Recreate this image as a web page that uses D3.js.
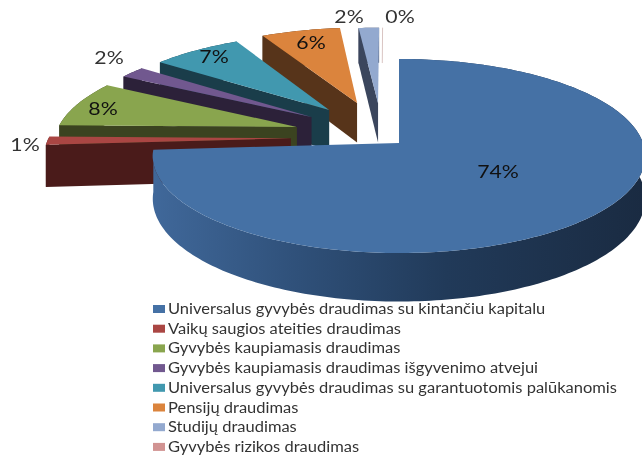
<!DOCTYPE html>
<html>
<head>
<meta charset="utf-8">
<script src="https://cdn.jsdelivr.net/npm/d3@7"></script>
<style>
  html, body { margin: 0; padding: 0; background: #fff; }
  svg { display: block; filter: blur(0.45px); }
  text { font-family: Lato, "Open Sans", sans-serif; }
</style>
</head>
<body>
<div id="chart"></div>
<script>
var categories = [
  "Universalus gyvybės draudimas su kintančiu kapitalu",
  "Vaikų saugios ateities draudimas",
  "Gyvybės kaupiamasis draudimas",
  "Gyvybės kaupiamasis draudimas išgyvenimo atvejui",
  "Universalus gyvybės draudimas su garantuotomis palūkanomis",
  "Pensijų draudimas",
  "Studijų draudimas",
  "Gyvybės rizikos draudimas"
];
var values = [73.9, 1.4, 7.8, 2, 7, 6.2, 1.6, 0.1];
var topColors = ["#4571a5", "#aa4643", "#89a54e", "#71588f", "#4198af", "#db843d", "#93a9cf", "#d19392"];
var wallColors = ["url(#blueWall)", "#4a1b1a", "#3b4320", "#2c2139", "#1a3d4a", "#57341a", "#3b465d", "#d19392"];

// how far each slice was pulled out, in pie plane units (x right, y back)
var explodeX = [0, -0.446, -0.428, -0.372, -0.3, -0.182, -0.091, -0.074];
var explodeY = [0, 0.05, 0.172, 0.283, 0.363, 0.445, 0.445, 0.445];
var labelX = [498, 25, 103, 109, 214, 311, 349, 400];
var labelY = [172, 145, 109, 58, 57, 43, 17, 17];

var width = 642, height = 456;
var cx = 399, cy = 143, rx = 244, ry = 95.3, persp = 0.134, depth = 42;

var svg = d3.select("#chart").append("svg")
  .attr("width", width)
  .attr("height", height);

var grad = svg.append("defs").append("linearGradient")
  .attr("id", "blueWall")
  .attr("gradientUnits", "userSpaceOnUse")
  .attr("x1", 153).attr("x2", 642).attr("y1", 0).attr("y2", 0);
grad.selectAll("stop")
  .data([[0, "#40689a"], [0.3, "#2f5079"], [0.6, "#213a59"], [1, "#1a2b42"]])
  .enter().append("stop")
  .attr("offset", function(d) { return d[0]; })
  .attr("stop-color", function(d) { return d[1]; });

var pie = d3.pie().sort(null).value(function(d) { return d; });
var slices = pie(values);

// plane point -> screen, back of the pie gets smaller
function project(px, py, drop) {
  var s = 1 / (1 + persp * py);
  return [cx + rx * px * s, cy - ry * py * s + (drop ? depth * s : 0)];
}

function radial(i, angle, r, drop) {
  return project(explodeX[i] + r * Math.sin(angle), explodeY[i] + r * Math.cos(angle), drop);
}

function arcPoints(i, d, drop) {
  var n = Math.max(2, Math.ceil((d.endAngle - d.startAngle) / 0.02));
  return d3.range(n + 1).map(function(k) {
    return radial(i, d.startAngle + (d.endAngle - d.startAngle) * k / n, 1, drop);
  });
}

var line = d3.line();

// back to front, the big slice last
var order = d3.range(values.length).reverse();

var g = svg.append("g");
order.forEach(function(i) {
  var d = slices[i];
  if (i == 7) {
    // almost nothing, only a thin line shows
    g.append("path")
      .attr("d", line([radial(i, d.startAngle, 1), radial(i, d.startAngle, 0.5)]))
      .attr("stroke", "#d9c4c2")
      .attr("stroke-width", 1)
      .attr("fill", "none");
    return;
  }
  var topArc = arcPoints(i, d, false);
  var lowArc = arcPoints(i, d, true).reverse();
  g.append("path")
    .attr("d", line(topArc.concat(lowArc)) + "Z")
    .attr("fill", wallColors[i]);
  if (i > 0) {
    g.append("path")
      .attr("d", line([
        radial(i, d.startAngle, 0), radial(i, d.startAngle, 1),
        radial(i, d.startAngle, 1, true), radial(i, d.startAngle, 0, true)
      ]) + "Z")
      .attr("fill", wallColors[i]);
  }
  g.append("path")
    .attr("d", line([radial(i, d.startAngle, 0)].concat(topArc)) + "Z")
    .attr("fill", topColors[i]);
});

svg.selectAll(".pct")
  .data(values)
  .enter().append("text")
  .attr("class", "pct")
  .attr("text-anchor", "middle")
  .attr("transform", function(d, i) { return "translate(" + labelX[i] + "," + (labelY[i] + 6) + ") scale(1.25,1)"; })
  .attr("font-size", 17)
  .attr("fill", function(d, i) { return (i == 0 || i == 2 || i == 4 || i == 5) ? "#111" : "#333"; })
  .text(function(d) { return Math.round(d) + "%"; });

var legend = svg.selectAll(".legend")
  .data(categories)
  .enter().append("g")
  .attr("class", "legend")
  .attr("transform", function(d, i) { return "translate(153," + (309 + i * 19.7) + ")"; });

legend.append("rect")
  .attr("x", 0).attr("y", -4)
  .attr("width", 12).attr("height", 8)
  .attr("fill", function(d, i) { return topColors[i]; });

legend.append("text")
  .attr("transform", "translate(15,5) scale(1.1,1)")
  .attr("font-size", 15)
  .attr("fill", "#333")
  .text(function(d) { return d; });
</script>
</body>
</html>
